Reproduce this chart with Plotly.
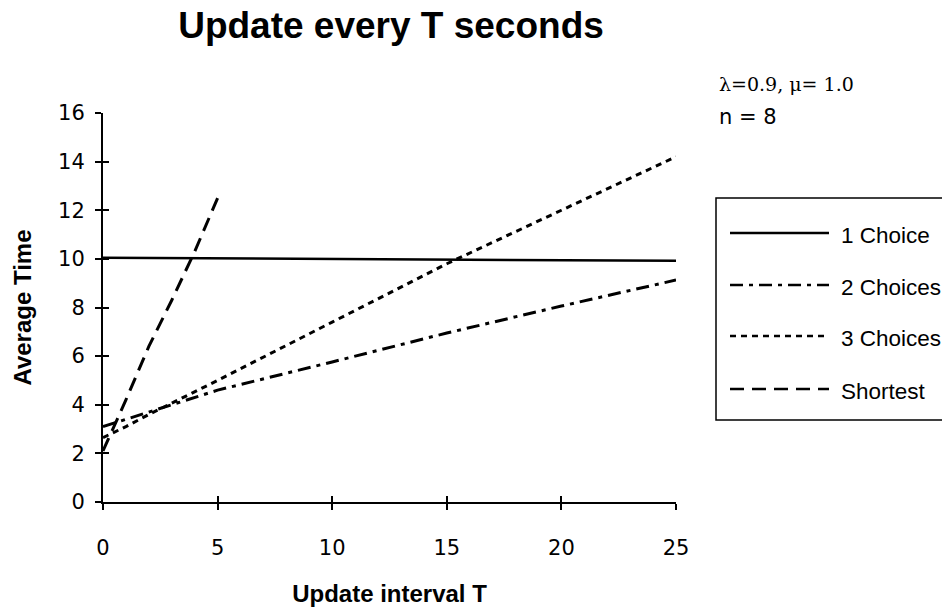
import plotly.graph_objects as go

# Data
t_one = [0, 5, 10, 15, 20, 25]
one_choice = [10.05, 10.02, 10.0, 9.97, 9.94, 9.92]

t_two = [0, 1, 2, 5, 10, 15, 20, 25]
two_choices = [3.1, 3.4, 3.7, 4.6, 5.76, 6.95, 8.06, 9.13]

t_three = [0, 1, 2, 5, 10, 15, 20, 25]
three_choices = [2.65, 3.1, 3.6, 5.0, 7.4, 9.8, 12.0, 14.2]

t_short = [0, 1, 2, 3, 4, 5]
shortest = [2.1, 4.2, 6.4, 8.3, 10.3, 12.5]

x_ticks = [0, 5, 10, 15, 20, 25]
y_ticks = [0, 2, 4, 6, 8, 10, 12, 14, 16]

series_names = ["1 Choice", "2 Choices", "3 Choices", "Shortest"]
dashes = ["solid", "13px,6px,4px,6px", "6px,5px", "14px,8px"]

FONT = "Liberation Sans, Arial, sans-serif"
TICKFONT = "DejaVu Sans, sans-serif"

fig = go.Figure()
data = [(t_one, one_choice), (t_two, two_choices), (t_three, three_choices), (t_short, shortest)]
widths = [2.5, 3, 3, 3]
for (xs, ys), name, dash, w in zip(data, series_names, dashes, widths):
    fig.add_trace(go.Scatter(x=xs, y=ys, mode="lines", name=name,
                             line=dict(color="black", width=w, dash=dash),
                             showlegend=False))

# invisible trace to carry the overlay axes (inside half of crossing ticks)
fig.add_trace(go.Scatter(x=[None], y=[None], xaxis="x2", yaxis="y2",
                         showlegend=False, hoverinfo="skip"))

fig.update_layout(
    width=942, height=609,
    paper_bgcolor="white", plot_bgcolor="white",
    margin=dict(l=103, r=266, t=113, b=107, autoexpand=False),
    font=dict(family=FONT, color="black"),
    title=dict(text="<b>Update every T seconds</b>", x=391/942, xanchor="center",
               y=1-25/609, yanchor="middle", xref="container", yref="container",
               font=dict(size=37, family=FONT, color="black"), automargin=False),
    xaxis=dict(range=[0, 25], tickvals=x_ticks, ticks="outside", ticklen=6,
               tickwidth=2, tickcolor="black", showline=True, linecolor="black",
               linewidth=2, showgrid=False, zeroline=False, automargin=False,
               tickfont=dict(size=21, family=TICKFONT), ticklabelstandoff=20,
               title=dict(text="<b>Update interval T</b>", font=dict(size=24, family=FONT),
                          standoff=26)),
    yaxis=dict(range=[0, 16], tickvals=y_ticks, ticks="outside", ticklen=6,
               tickwidth=2, tickcolor="black", showline=True, linecolor="black",
               linewidth=2, showgrid=False, zeroline=False, automargin=False,
               tickfont=dict(size=21, family=TICKFONT), ticklabelstandoff=6,
               title=dict(text="<b>Average Time</b>", font=dict(size=24, family=FONT),
                          standoff=20)),
    xaxis2=dict(range=[0, 25], tickvals=x_ticks, ticks="inside", ticklen=6,
                tickwidth=2, tickcolor="black", overlaying="x", anchor="y",
                showticklabels=False, showline=False, showgrid=False, zeroline=False),
    yaxis2=dict(range=[0, 16], tickvals=y_ticks, ticks="inside", ticklen=6,
                tickwidth=2, tickcolor="black", overlaying="y", anchor="x", side="left",
                showticklabels=False, showline=False, showgrid=False, zeroline=False),
)

def px_x(p):
    return (p - 103) / 573

def px_y(p):
    return (502 - p) / 389

# Parameter annotations
fig.add_annotation(text="λ=0.9, μ= 1.0", xref="paper", yref="paper",
                   x=px_x(717), y=px_y(84), xanchor="left", yanchor="middle",
                   showarrow=False, font=dict(size=19, family="DejaVu Serif, serif"))
fig.add_annotation(text="n = 8", xref="paper", yref="paper",
                   x=px_x(717), y=px_y(117), xanchor="left", yanchor="middle",
                   showarrow=False, font=dict(size=21, family=TICKFONT))

# Legend box (drawn manually to match the long sample lines)
fig.add_shape(type="rect", xref="paper", yref="paper",
              x0=px_x(716), x1=px_x(990), y0=px_y(420), y1=px_y(198),
              line=dict(color="black", width=1.5), fillcolor="rgba(0,0,0,0)")
legend_rows = [233, 285, 336, 389]
for row, name, dash in zip(legend_rows, series_names, dashes):
    fig.add_shape(type="line", xref="paper", yref="paper",
                  x0=px_x(730), x1=px_x(829), y0=px_y(row), y1=px_y(row),
                  line=dict(color="black", width=2.5, dash=dash))
    fig.add_annotation(text=name, xref="paper", yref="paper",
                       x=px_x(839), y=px_y(row + 2), xanchor="left", yanchor="middle",
                       showarrow=False, font=dict(size=22.5, family=FONT))

fig.write_html("out.html", config={"displayModeBar": False},
               post_script="document.body.style.margin='0';")
